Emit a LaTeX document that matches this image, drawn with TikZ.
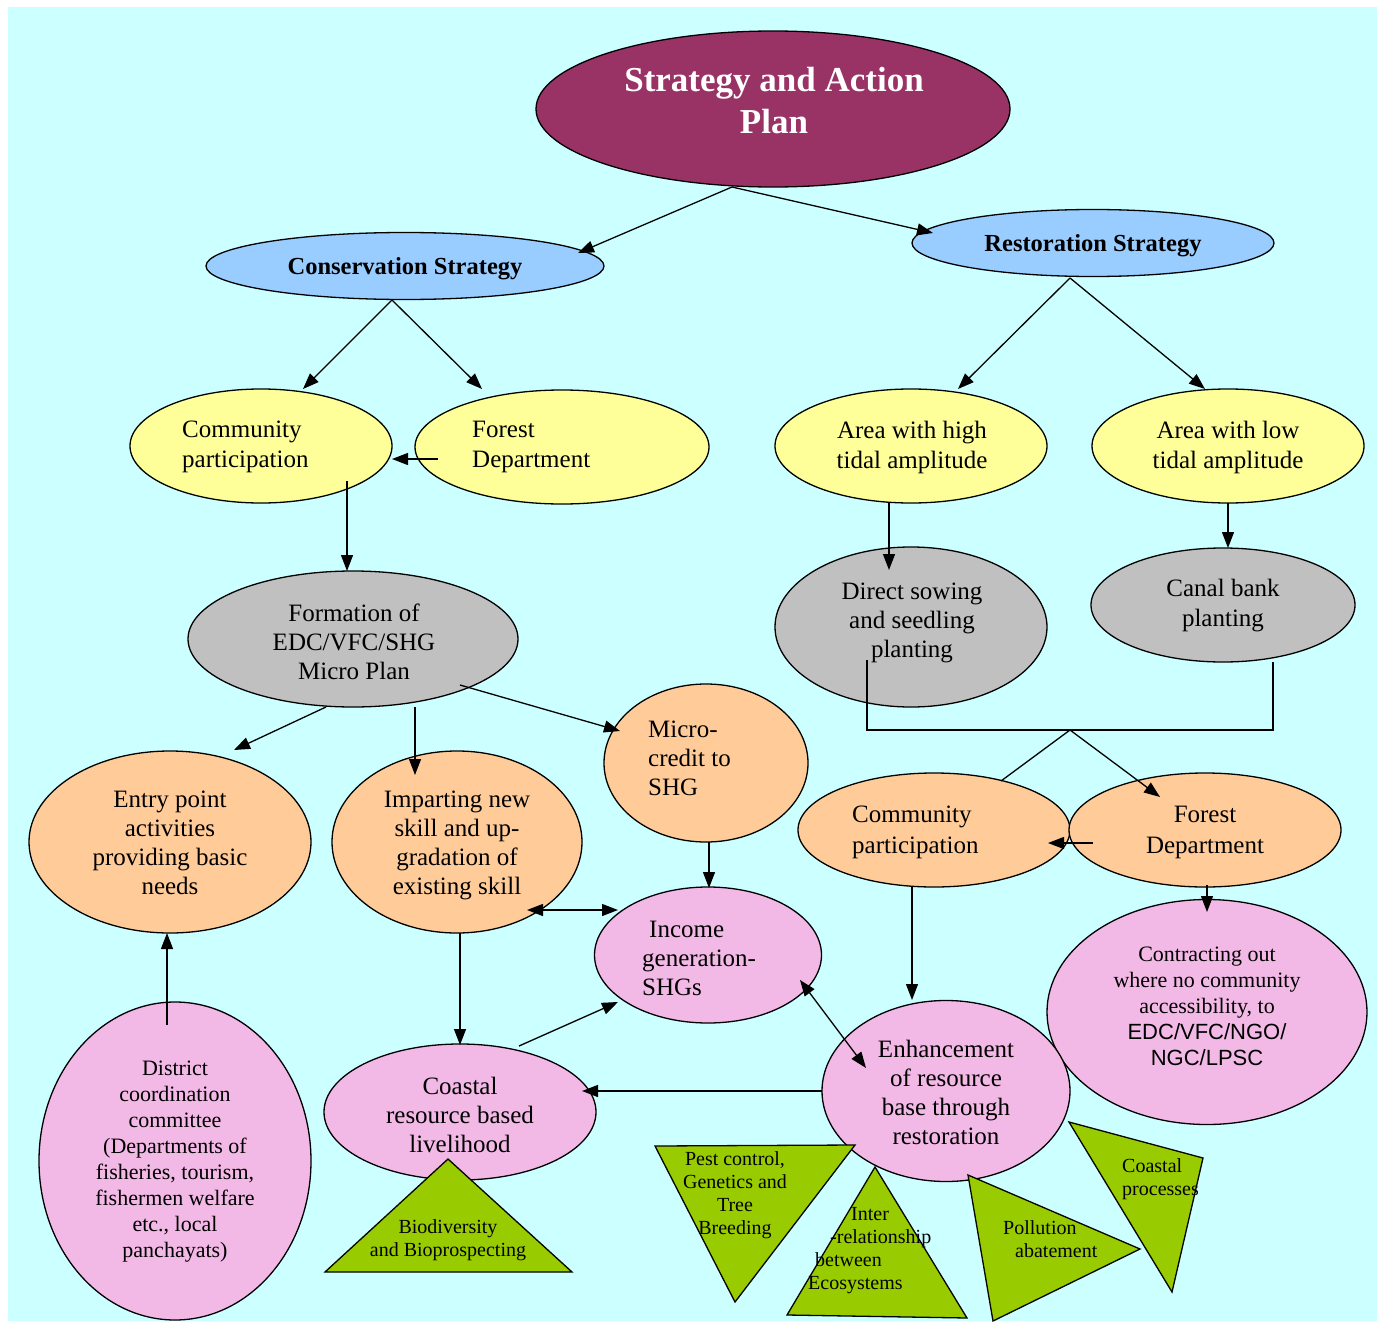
\documentclass[tikz,border=0pt]{standalone}
\usepackage{fontspec}
\setmainfont{Liberation Serif}
\newfontfamily\sansf{Liberation Sans}
\usetikzlibrary{shapes.geometric,arrows.meta,calc}
\definecolor{bgc}{HTML}{CCFFFF}
\definecolor{titlec}{HTML}{993366}
\definecolor{bluec}{HTML}{99CCFF}
\definecolor{yelc}{HTML}{FFFF99}
\definecolor{grayc}{HTML}{C0C0C0}
\definecolor{orc}{HTML}{FFCC99}
\definecolor{pinkc}{HTML}{F3B9E6}
\definecolor{grnc}{HTML}{99CC00}
\newcommand\fmain{\fontsize{25}{30}\selectfont}
\newcommand\fmainb{\fontsize{25}{29}\selectfont}
\newcommand\ftitle{\bfseries\fontsize{35}{42}\selectfont}
\newcommand\fstrat{\bfseries\fontsize{24.5}{29}\selectfont}
\newcommand\fsmall{\fontsize{22}{26}\selectfont}
\newcommand\ftri{\fontsize{20}{23}\selectfont}
\tikzset{
  ell/.style={ellipse, draw=black, line width=1.3pt, inner sep=0pt},
  txt/.style={inner sep=0pt, align=center, font=\fmain, yshift=-3pt},
  txtb/.style={inner sep=0pt, align=center, font=\fmainb},
  arr/.style={-{Triangle[length=16pt,width=12pt]}, line width=1.3pt},
  darr/.style={{Triangle[length=16pt,width=12pt]}-{Triangle[length=16pt,width=12pt]}, line width=1.3pt},
  ln/.style={line width=1.3pt},
  tri/.style={draw=black, line width=1.3pt, fill=grnc, line join=miter},
}
\begin{document}
\begin{tikzpicture}[x=1pt,y=-1pt]
\useasboundingbox (0,0) rectangle (1377,1322);
\fill[bgc] (8,7) rectangle (1377,1321);

% ellipses
\node[ell, fill=titlec, minimum width=474, minimum height=156] (title) at (773,109) {};
\node[ell, fill=bluec, minimum width=398, minimum height=67] (cons) at (405,266) {};
\node[ell, fill=bluec, minimum width=362, minimum height=67] (rest) at (1093,243) {};
\node[ell, fill=yelc, minimum width=262, minimum height=114] (cp1) at (261,446) {};
\node[ell, fill=yelc, minimum width=294, minimum height=114] (fd1) at (562,447) {};
\node[ell, fill=yelc, minimum width=272, minimum height=114] (ah) at (911,446) {};
\node[ell, fill=yelc, minimum width=272, minimum height=114] (al) at (1228,446) {};
\node[ell, fill=grayc, minimum width=330, minimum height=136] (form) at (353,639) {};
\node[ell, fill=grayc, minimum width=272, minimum height=160] (ds) at (911,627) {};
\node[ell, fill=grayc, minimum width=264, minimum height=114] (cb) at (1223,605) {};
\node[ell, fill=orc, minimum width=282, minimum height=182] (ep) at (170,842) {};
\node[ell, fill=orc, minimum width=250, minimum height=182] (im) at (457,842) {};
\node[ell, fill=orc, minimum width=204, minimum height=158] (mc) at (706,763) {};
\node[ell, fill=orc, minimum width=272, minimum height=114] (cp2) at (934,830) {};
\node[ell, fill=orc, minimum width=272, minimum height=114] (fd2) at (1205,830) {};
\node[ell, fill=pinkc, minimum width=227, minimum height=136] (ig) at (708,955) {};
\node[ell, fill=pinkc, minimum width=320, minimum height=225] (co) at (1207,1012) {};
\node[ell, fill=pinkc, minimum width=272, minimum height=318] (dcc) at (175,1161) {};
\node[ell, fill=pinkc, minimum width=272, minimum height=136] (cr) at (460,1112) {};
\node[ell, fill=pinkc, minimum width=248, minimum height=181] (en) at (946,1091) {};

% connectors
\coordinate (j) at (1070,730);
\draw[arr] ($(title)+(-41,78)$) -- ($(cons)+(173,-13)$);
\draw[arr] ($(title)+(-41,78)$) -- ($(rest)+(-160,-10)$);
\draw[arr] ($(cons)+(-13,34)$) -- ($(cp1)+(42,-57)$);
\draw[arr] ($(cons)+(-13,34)$) -- ($(fd1)+(-80,-58)$);
\draw[arr] ($(fd1)+(-124,12)$) -- ($(cp1)+(131,13)$);
\draw[arr] ($(cp1)+(86,35)$) -- ($(form)+(-6,-68)$);
\draw[arr] ($(rest)+(-23,35)$) -- ($(ah)+(47,-57)$);
\draw[arr] ($(rest)+(-23,35)$) -- ($(al)+(-23,-57)$);
\draw[arr] ($(ah)+(-22,57)$) -- ($(ds)+(-22,-57)$);
\draw[arr] ($(al)+(0,57)$) -- ($(cb)+(5,-57)$);
\draw[ln] ($(ds)+(-44,33)$) |- (j) -| ($(cb)+(50,57)$);
\draw[ln] (j) -- ($(cp2)+(67,-49)$);
\draw[arr] (j) -- ($(fd2)+(-45,-33)$);
\draw[arr] ($(fd2)+(-112,13)$) -- ($(cp2)+(114,13)$);
\draw[arr] ($(fd2)+(2,55)$) -- ($(co)+(0,-100)$);
\draw[arr] ($(cp2)+(-22,57)$) -- ($(en)+(-34,-91)$);
\draw[arr] ($(form)+(-27,68)$) -- ($(ep)+(64,-92)$);
\draw[arr] ($(form)+(62,68)$) -- ($(im)+(-42,-67)$);
\draw[arr] ($(form)+(107,46)$) -- ($(mc)+(-86,-32)$);
\draw[arr] ($(mc)+(3,79)$) -- ($(ig)+(1,-67)$);
\draw[darr] ($(im)+(70,68)$) -- ($(ig)+(-90,-45)$);
\draw[arr] ($(im)+(3,91)$) -- ($(cr)+(0,-67)$);
\draw[arr] ($(cr)+(59,-66)$) -- ($(ig)+(-90,47)$);
\draw[darr] ($(ig)+(92,25)$) -- ($(en)+(-80,-23)$);
\draw[arr] ($(en)+(-124,0)$) -- ($(cr)+(122,-21)$);
\draw[arr] ($(dcc)+(-8,-136)$) -- ($(ep)+(-3,91)$);

% triangles
\draw[tri] (448,1159) -- (572,1272) -- (325,1272) -- cycle;
\draw[tri] (655,1146) -- (855,1145) -- (735,1302) -- cycle;
\draw[tri] (875,1167) -- (967,1318) -- (787,1315) -- cycle;
\draw[tri] (968,1175) -- (1140,1249) -- (993,1321) -- cycle;
\draw[tri] (1069,1122) -- (1203,1158) -- (1172,1292) -- cycle;

% texts
\node[txt, font=\ftitle, text=white, yshift=3pt] (ttitle) at (774,101) {Strategy and Action\\Plan};
\node[txt, font=\fstrat] (tcons) at (405,266) {Conservation Strategy};
\node[txt, font=\fstrat] (trest) at (1093,243) {Restoration Strategy};
\node[txt, align=left, anchor=west] (tcp1) at (182,444) {Community\\participation};
\node[txt, align=left, anchor=west] (tfd1) at (472,444) {Forest\\Department};
\node[txt] (tah) at (912,444) {Area with high\\tidal amplitude};
\node[txt] (tal) at (1228,444) {Area with low\\tidal amplitude};
\node[txtb] (tform) at (354,642) {Formation of\\EDC/VFC/SHG\\Micro Plan};
\node[txtb] (tds) at (912,623) {Direct sowing\\and seedling\\planting};
\node[txt] (tcb) at (1223,603) {Canal bank\\planting};
\node[txtb, yshift=1pt] (tep) at (170,844) {Entry point\\activities\\providing basic\\needs};
\node[txtb, yshift=-1pt] (tim) at (457,844) {Imparting new\\skill and up-\\gradation of\\existing skill};
\node[txtb, align=left, anchor=west] (tmc) at (648,758) {Micro-\\credit to\\SHG};
\node[txt, font=\fontsize{25}{31}\selectfont, align=left, anchor=west] (tcp2) at (852,829) {Community\\participation};
\node[txt, font=\fontsize{25}{31}\selectfont] (tfd2) at (1205,829) {Forest\\Department};
\node[txtb, align=left, anchor=west] (tig) at (642,958) {\hspace{7pt}Income\\generation-\\SHGs};
\node[txtb, font=\fsmall] (tco) at (1207,1006) {Contracting out\\where no community\\accessibility, to\\{\sansf EDC/VFC/NGO/}\\{\sansf NGC/LPSC}};
\node[txt, font=\fsmall] (tdcc) at (175,1159) {District\\coordination\\committee\\(Departments of\\fisheries, tourism,\\fishermen welfare\\etc., local\\panchayats)};
\node[txtb, yshift=1pt] (tcr) at (460,1116) {Coastal\\resource based\\livelihood};
\node[txtb] (ten) at (946,1092) {Enhancement\\of resource\\base through\\restoration};
\node[txt, font=\ftri] (tt1) at (448,1237) {Biodiversity\\and Bioprospecting};
\node[txt, font=\ftri] (tt2) at (735,1192) {Pest control,\\Genetics and\\Tree\\Breeding};
\node[txt, font=\ftri, align=left, anchor=west] (tt3) at (808,1248) {\hspace{43pt}Inter\\\hspace{22pt}-relationship\\\hspace{7pt}between\\Ecosystems};
\node[txt, font=\ftri, align=left, anchor=west] (tt4) at (1003,1236) {Pollution\\\hspace{12pt}abatement};
\node[txt, font=\ftri, align=left, anchor=west] (tt5) at (1122,1176) {Coastal\\processes};
\end{tikzpicture}
\end{document}
